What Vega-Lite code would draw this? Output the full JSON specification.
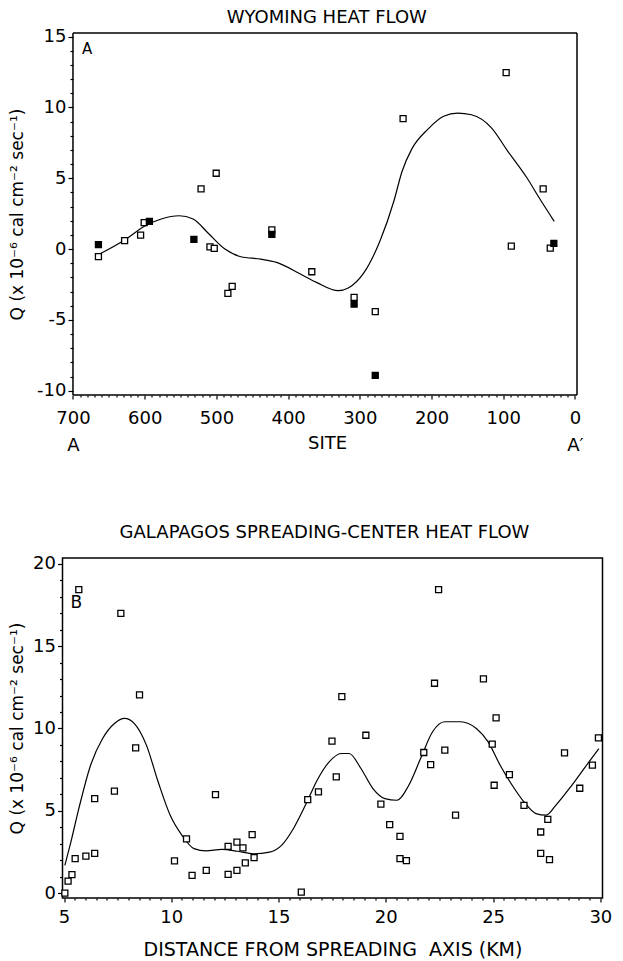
{
  "$schema": "https://vega.github.io/schema/vega-lite/v6.json",
  "background": "white",
  "padding": {"left": 6.5, "top": 8, "right": 5, "bottom": 0},
  "spacing": 69,
  "config": {
    "font": "DejaVu Sans",
    "view": {"stroke": "black", "strokeWidth": 1.5},
    "axis": {
      "domain": false,
      "grid": false,
      "tickColor": "black",
      "tickWidth": 1.2,
      "tickCount": 500,
      "labelColor": "black",
      "titleColor": "black",
      "labelFontSize": 18,
      "titleFontWeight": "normal",
      "labelOverlap": false,
      "labelFlush": false,
      "labelBound": false
    }
  },
  "datasets": {
    "wy_points": [
      {"site": 664.5, "q": -0.54, "marker": "open"},
      {"site": 628, "q": 0.59, "marker": "open"},
      {"site": 605.7, "q": 0.99, "marker": "open"},
      {"site": 600.7, "q": 1.86, "marker": "open"},
      {"site": 521.4, "q": 4.25, "marker": "open"},
      {"site": 500.3, "q": 5.35, "marker": "open"},
      {"site": 509, "q": 0.16, "marker": "open"},
      {"site": 503, "q": 0.05, "marker": "open"},
      {"site": 478, "q": -2.64, "marker": "open"},
      {"site": 484, "q": -3.13, "marker": "open"},
      {"site": 422.7, "q": 1.36, "marker": "open"},
      {"site": 367, "q": -1.6, "marker": "open"},
      {"site": 308, "q": -3.41, "marker": "open"},
      {"site": 278.5, "q": -4.42, "marker": "open"},
      {"site": 239.7, "q": 9.2, "marker": "open"},
      {"site": 96, "q": 12.45, "marker": "open"},
      {"site": 88.8, "q": 0.21, "marker": "open"},
      {"site": 44.4, "q": 4.25, "marker": "open"},
      {"site": 34.5, "q": 0.07, "marker": "open"},
      {"site": 664.5, "q": 0.31, "marker": "filled"},
      {"site": 593.5, "q": 1.95, "marker": "filled"},
      {"site": 531.4, "q": 0.68, "marker": "filled"},
      {"site": 422.7, "q": 1.04, "marker": "filled"},
      {"site": 308, "q": -3.88, "marker": "filled"},
      {"site": 278.5, "q": -8.92, "marker": "filled"},
      {"site": 29.5, "q": 0.4, "marker": "filled"}
    ],
    "wy_curve": [
      {"site": 662.8, "q": -0.35},
      {"site": 627.9, "q": 0.64},
      {"site": 599.1, "q": 1.65},
      {"site": 576.9, "q": 2.12},
      {"site": 551.9, "q": 2.35},
      {"site": 532.5, "q": 2.12},
      {"site": 510.3, "q": 1.06},
      {"site": 488.1, "q": 0.0},
      {"site": 465.9, "q": -0.54},
      {"site": 438.2, "q": -0.71},
      {"site": 416, "q": -0.94},
      {"site": 382.8, "q": -1.76},
      {"site": 360.6, "q": -2.35},
      {"site": 330.1, "q": -2.94},
      {"site": 316.2, "q": -2.75},
      {"site": 294, "q": -1.65},
      {"site": 271.8, "q": 0.59},
      {"site": 252.4, "q": 3.41},
      {"site": 241.3, "q": 5.46},
      {"site": 227.5, "q": 7.07},
      {"site": 205.3, "q": 8.45},
      {"site": 183.1, "q": 9.37},
      {"site": 163.7, "q": 9.6},
      {"site": 144.3, "q": 9.48},
      {"site": 116.5, "q": 8.56},
      {"site": 94.3, "q": 6.95},
      {"site": 66.6, "q": 5.0},
      {"site": 50, "q": 3.62},
      {"site": 28.9, "q": 1.95}
    ],
    "wy_label": [{"site": 687.4, "q": 14.14, "label": "A"}],
    "gal_points": [
      {"x": 5.04, "q": 0.0}, {"x": 5.19, "q": 0.73}, {"x": 5.37, "q": 1.12}, {"x": 5.52, "q": 2.09},
      {"x": 5.69, "q": 18.44}, {"x": 6.02, "q": 2.25}, {"x": 6.43, "q": 2.41}, {"x": 6.43, "q": 5.74},
      {"x": 7.35, "q": 6.19}, {"x": 7.65, "q": 17.0}, {"x": 8.34, "q": 8.82}, {"x": 8.52, "q": 12.04},
      {"x": 10.15, "q": 1.95}, {"x": 10.71, "q": 3.29}, {"x": 10.97, "q": 1.08}, {"x": 11.63, "q": 1.38},
      {"x": 12.06, "q": 5.98}, {"x": 12.65, "q": 2.84}, {"x": 12.65, "q": 1.14}, {"x": 13.06, "q": 3.1},
      {"x": 13.06, "q": 1.38}, {"x": 13.34, "q": 2.74}, {"x": 13.45, "q": 1.83}, {"x": 13.77, "q": 3.55},
      {"x": 13.86, "q": 2.15}, {"x": 16.06, "q": 0.06}, {"x": 16.36, "q": 5.68}, {"x": 16.86, "q": 6.15},
      {"x": 17.49, "q": 9.23}, {"x": 17.69, "q": 7.06}, {"x": 17.95, "q": 11.94}, {"x": 19.07, "q": 9.59},
      {"x": 19.77, "q": 5.4}, {"x": 20.18, "q": 4.16}, {"x": 20.66, "q": 3.45}, {"x": 20.66, "q": 2.09},
      {"x": 20.96, "q": 1.97}, {"x": 21.77, "q": 8.54}, {"x": 22.09, "q": 7.81}, {"x": 22.27, "q": 12.75},
      {"x": 22.46, "q": 18.44}, {"x": 22.75, "q": 8.68}, {"x": 23.25, "q": 4.73}, {"x": 24.55, "q": 13.02},
      {"x": 24.96, "q": 9.05}, {"x": 25.05, "q": 6.55}, {"x": 25.14, "q": 10.65}, {"x": 25.76, "q": 7.2},
      {"x": 26.44, "q": 5.33}, {"x": 27.22, "q": 3.71}, {"x": 27.22, "q": 2.41}, {"x": 27.55, "q": 4.48},
      {"x": 27.63, "q": 2.03}, {"x": 28.33, "q": 8.52}, {"x": 29.04, "q": 6.37}, {"x": 29.63, "q": 7.77},
      {"x": 29.91, "q": 9.43}
    ],
    "gal_curve": [
      {"x": 5.04, "q": 1.68}, {"x": 5.32, "q": 3.1}, {"x": 5.69, "q": 5.13}, {"x": 6.24, "q": 7.77},
      {"x": 6.8, "q": 9.39}, {"x": 7.35, "q": 10.3}, {"x": 7.82, "q": 10.61}, {"x": 8.28, "q": 10.3},
      {"x": 8.84, "q": 8.99}, {"x": 9.39, "q": 6.75}, {"x": 9.95, "q": 4.73}, {"x": 10.5, "q": 3.51},
      {"x": 11.06, "q": 2.7}, {"x": 11.62, "q": 2.56}, {"x": 12.36, "q": 2.66}, {"x": 13.1, "q": 2.54},
      {"x": 13.84, "q": 2.39}, {"x": 14.58, "q": 2.49}, {"x": 15.14, "q": 2.9}, {"x": 15.69, "q": 3.91},
      {"x": 16.25, "q": 5.33}, {"x": 16.8, "q": 6.86}, {"x": 17.36, "q": 7.97}, {"x": 17.92, "q": 8.48},
      {"x": 18.29, "q": 8.48}, {"x": 18.84, "q": 7.57}, {"x": 19.4, "q": 6.35}, {"x": 19.96, "q": 5.74},
      {"x": 20.51, "q": 5.64}, {"x": 21.07, "q": 6.55}, {"x": 21.62, "q": 8.17}, {"x": 22.18, "q": 9.8},
      {"x": 22.74, "q": 10.41}, {"x": 23.48, "q": 10.41}, {"x": 24.22, "q": 10.0}, {"x": 24.77, "q": 9.19},
      {"x": 25.33, "q": 7.77}, {"x": 25.89, "q": 6.55}, {"x": 26.44, "q": 5.54}, {"x": 27.0, "q": 4.83},
      {"x": 27.46, "q": 4.73}, {"x": 27.92, "q": 5.33}, {"x": 28.67, "q": 6.55}, {"x": 29.41, "q": 7.87},
      {"x": 29.93, "q": 8.78}
    ],
    "gal_label": [{"x": 5.3, "q": 17.65, "label": "B"}],
    "one": [{}]
  },
  "vconcat": [
    {
      "width": 514.5,
      "height": 362,
      "view": {"stroke": null},
      "title": {"text": "WYOMING HEAT FLOW", "fontSize": 18, "fontWeight": "normal", "color": "black", "frame": "group", "anchor": "middle", "baseline": "alphabetic", "offset": -13, "dx": 7},
      "layer": [
        {
          "data": {"name": "wy_curve"},
          "mark": {"type": "line", "color": "black", "strokeWidth": 1.2, "interpolate": "monotone"},
          "encoding": {
            "x": {
              "field": "site", "type": "quantitative",
              "scale": {"domain": [-2.79, 714.6], "reverse": true, "nice": false, "zero": false},
              "axis": {
                "title": "SITE",
                "titleFontSize": 18,
                "titlePadding": -20,
                "titleX": 264.5,
                "labelOverlap": false,
                "tickCount": 500,
                "values": [0,10,20,30,40,50,60,70,80,90,100,110,120,130,140,150,160,170,180,190,200,210,220,230,240,250,260,270,280,290,300,310,320,330,340,350,360,370,380,390,400,410,420,430,440,450,460,470,480,490,500,510,520,530,540,550,560,570,580,590,600,610,620,630,640,650,660,670,680,690,700],
                "labelExpr": "datum.value === 700 ? ['700', 'A'] : datum.value === 0 ? ['0', 'A′'] : (datum.value % 100 === 0 ? '' + datum.value : '')",
                "labelLineHeight": 27,
                "labelPadding": 10,
                "tickSize": {"condition": {"test": "datum.value % 100 === 0", "value": 4}, "value": 2}
              }
            },
            "y": {
              "field": "q", "type": "quantitative",
              "scale": {"domain": [-10.3, 15.25], "nice": false, "zero": false},
              "axis": {
                "title": "Q (x 10⁻⁶ cal cm⁻² sec⁻¹)",
                "titleFontSize": 17,
                "titlePadding": 10,
                "minExtent": 37,
                "offset": -10.5,
                "labelOverlap": false,
                "tickCount": 500,
                "values": [-10,-9,-8,-7,-6,-5,-4,-3,-2,-1,0,1,2,3,4,5,6,7,8,9,10,11,12,13,14,15],
                "labelExpr": "datum.value % 5 === 0 ? '' + datum.value : ''",
                "labelPadding": 2,
                "tickSize": {"condition": {"test": "datum.value % 5 === 0", "value": 5}, "value": 3}
              }
            }
          }
        },
        {
          "data": {"name": "one"},
          "mark": {"type": "rule", "color": "black", "strokeWidth": 1.5},
          "encoding": {"x": {"datum": 700}, "y": {"datum": -10.3}, "y2": {"datum": 15.25}}
        },
        {
          "data": {"name": "one"},
          "mark": {"type": "rule", "color": "black", "strokeWidth": 1.5},
          "encoding": {"x": {"datum": -2.79}, "y": {"datum": -10.3}, "y2": {"datum": 15.25}}
        },
        {
          "data": {"name": "one"},
          "mark": {"type": "rule", "color": "black", "strokeWidth": 1.5},
          "encoding": {"y": {"datum": 15.25}, "x": {"datum": 700}, "x2": {"datum": -2.79}}
        },
        {
          "data": {"name": "one"},
          "mark": {"type": "rule", "color": "black", "strokeWidth": 1.5},
          "encoding": {"y": {"datum": -10.3}, "x": {"datum": 700}, "x2": {"datum": -2.79}}
        },
        {
          "data": {"name": "wy_points"},
          "mark": {"type": "square", "size": 36, "stroke": "black", "strokeWidth": 1.3, "opacity": 1},
          "encoding": {
            "x": {"field": "site", "type": "quantitative"},
            "y": {"field": "q", "type": "quantitative"},
            "fill": {"field": "marker", "type": "nominal", "scale": {"domain": ["open", "filled"], "range": ["white", "black"]}, "legend": null}
          }
        },
        {
          "data": {"name": "wy_label"},
          "mark": {"type": "text", "align": "left", "baseline": "middle", "fontSize": 15, "color": "black"},
          "encoding": {
            "x": {"field": "site", "type": "quantitative"},
            "y": {"field": "q", "type": "quantitative"},
            "text": {"field": "label"}
          }
        }
      ]
    },
    {
      "width": 540,
      "height": 340,
      "title": {"text": "GALAPAGOS SPREADING-CENTER HEAT FLOW", "fontSize": 18, "fontWeight": "normal", "color": "black", "frame": "group", "anchor": "middle", "baseline": "alphabetic", "offset": -1, "dx": -8},
      "layer": [
        {
          "data": {"name": "gal_curve"},
          "mark": {"type": "line", "color": "black", "strokeWidth": 1.2, "interpolate": "monotone"},
          "encoding": {
            "x": {
              "field": "x", "type": "quantitative",
              "scale": {"domain": [4.93, 30.1], "nice": false, "zero": false},
              "axis": {
                "title": "DISTANCE FROM SPREADING\u00a0 AXIS (KM)",
                "titleFontSize": 19,
                "titlePadding": 14.5,
                "labelOverlap": false,
                "tickCount": 500,
                "values": [5,5.5,6,6.5,7,7.5,8,8.5,9,9.5,10,10.5,11,11.5,12,12.5,13,13.5,14,14.5,15,15.5,16,16.5,17,17.5,18,18.5,19,19.5,20,20.5,21,21.5,22,22.5,23,23.5,24,24.5,25,25.5,26,26.5,27,27.5,28,28.5,29,29.5,30],
                "labelExpr": "datum.value % 5 === 0 ? '' + datum.value : ''",
                "labelPadding": 6,
                "tickSize": {"condition": {"test": "datum.value % 5 === 0", "value": 4}, "value": 2}
              }
            },
            "y": {
              "field": "q", "type": "quantitative",
              "scale": {"domain": [-0.3, 20.36], "nice": false, "zero": false},
              "axis": {
                "title": "Q (x 10⁻⁶ cal cm⁻² sec⁻¹)",
                "titleFontSize": 17,
                "titlePadding": 6.5,
                "minExtent": 30,
                "labelOverlap": false,
                "tickCount": 500,
                "values": [0,1,2,3,4,5,6,7,8,9,10,11,12,13,14,15,16,17,18,19,20],
                "labelExpr": "datum.value % 5 === 0 ? '' + datum.value : ''",
                "labelPadding": 2,
                "tickSize": {"condition": {"test": "datum.value % 5 === 0", "value": 5}, "value": 3}
              }
            }
          }
        },
        {
          "data": {"name": "gal_points"},
          "mark": {"type": "square", "size": 36, "fill": "white", "stroke": "black", "strokeWidth": 1.3, "opacity": 1},
          "encoding": {
            "x": {"field": "x", "type": "quantitative"},
            "y": {"field": "q", "type": "quantitative"}
          }
        },
        {
          "data": {"name": "gal_label"},
          "mark": {"type": "text", "align": "left", "baseline": "middle", "fontSize": 17, "color": "black"},
          "encoding": {
            "x": {"field": "x", "type": "quantitative"},
            "y": {"field": "q", "type": "quantitative"},
            "text": {"field": "label"}
          }
        }
      ]
    }
  ]
}
